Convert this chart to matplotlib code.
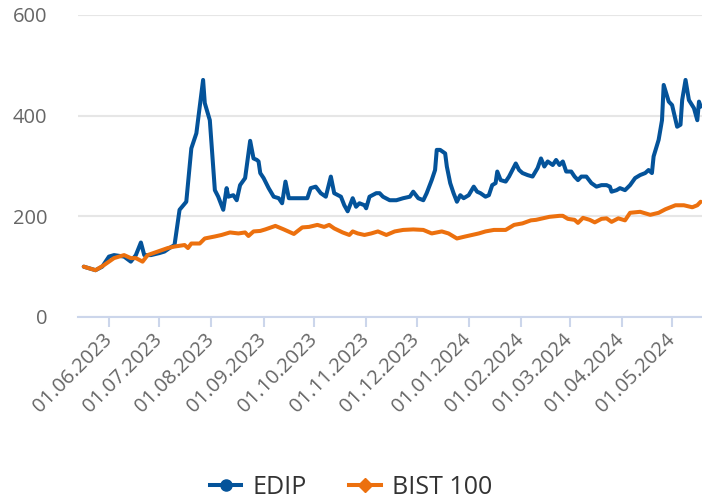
import matplotlib
matplotlib.use('Agg')
import matplotlib.pyplot as plt
from matplotlib.lines import Line2D
import pandas as pd

# ---------------- data ----------------
edip_dates = [
    '2023-05-17', '2023-05-24', '2023-05-28', '2023-06-01', '2023-06-04', '2023-06-10',
    '2023-06-14', '2023-06-17', '2023-06-20', '2023-06-22', '2023-06-26', '2023-07-01',
    '2023-07-04', '2023-07-07', '2023-07-10', '2023-07-13', '2023-07-17', '2023-07-20',
    '2023-07-23', '2023-07-25', '2023-07-27', '2023-07-28', '2023-07-31', '2023-08-03',
    '2023-08-05', '2023-08-08', '2023-08-10', '2023-08-11', '2023-08-14', '2023-08-16',
    '2023-08-18', '2023-08-21', '2023-08-24', '2023-08-26', '2023-08-28', '2023-08-29',
    '2023-08-30', '2023-09-01', '2023-09-04', '2023-09-07', '2023-09-10', '2023-09-12',
    '2023-09-14', '2023-09-16', '2023-09-20', '2023-09-24', '2023-09-27', '2023-09-29',
    '2023-10-02', '2023-10-05', '2023-10-08', '2023-10-11', '2023-10-13', '2023-10-17',
    '2023-10-19', '2023-10-21', '2023-10-24', '2023-10-26', '2023-10-28', '2023-10-31',
    '2023-11-01', '2023-11-03', '2023-11-07', '2023-11-09', '2023-11-11', '2023-11-15',
    '2023-11-19', '2023-11-23', '2023-11-27', '2023-11-29', '2023-12-02', '2023-12-05',
    '2023-12-07', '2023-12-10', '2023-12-12', '2023-12-13', '2023-12-15', '2023-12-18',
    '2023-12-19', '2023-12-21', '2023-12-23', '2023-12-25', '2023-12-27', '2023-12-29',
    '2024-01-01', '2024-01-04', '2024-01-06', '2024-01-08', '2024-01-11', '2024-01-13',
    '2024-01-15', '2024-01-17', '2024-01-18', '2024-01-20', '2024-01-23', '2024-01-25',
    '2024-01-27', '2024-01-29', '2024-01-31', '2024-02-02', '2024-02-05', '2024-02-08',
    '2024-02-11', '2024-02-13', '2024-02-15', '2024-02-17', '2024-02-20', '2024-02-22',
    '2024-02-24', '2024-02-26', '2024-02-28', '2024-03-02', '2024-03-04', '2024-03-06',
    '2024-03-08', '2024-03-11', '2024-03-14', '2024-03-17', '2024-03-20', '2024-03-23',
    '2024-03-25', '2024-03-26', '2024-03-29', '2024-03-31', '2024-04-03', '2024-04-06',
    '2024-04-09', '2024-04-12', '2024-04-15', '2024-04-17', '2024-04-19', '2024-04-20',
    '2024-04-23', '2024-04-25', '2024-04-26', '2024-04-29', '2024-05-01', '2024-05-04',
    '2024-05-06', '2024-05-07', '2024-05-09', '2024-05-11', '2024-05-14', '2024-05-16',
    '2024-05-17', '2024-05-18',
]
edip_values = [
    100, 93, 100, 120, 123, 120,
    110, 123, 148, 123, 123, 127,
    130, 137, 143, 213, 229, 335,
    365, 418, 471, 425, 391, 252,
    239, 213, 256, 239, 242, 232,
    262, 276, 350, 315, 312, 309,
    286, 276, 256, 239, 236, 226,
    269, 236, 236, 236, 236, 256,
    259, 246, 239, 279, 246, 239,
    222, 210, 236, 219, 226, 222,
    216, 239, 246, 246, 239, 232,
    232, 236, 239, 249, 236, 232,
    246, 272, 292, 332, 332, 325,
    299, 266, 246, 229, 242, 236,
    242, 259, 249, 246, 239, 242,
    262, 266, 289, 272, 269, 279,
    292, 305, 292, 286, 282, 279,
    296, 315, 299, 309, 302, 312,
    302, 309, 289, 289, 279, 272,
    279, 279, 266, 259, 262, 262,
    259, 249, 252, 256, 252, 262,
    276, 282, 286, 292, 286, 319,
    352, 391, 461, 428, 421, 378,
    382, 431, 471, 431, 415, 391,
    428, 418,
]

bist_dates = [
    '2023-05-17', '2023-05-24', '2023-05-29', '2023-06-04', '2023-06-10', '2023-06-14',
    '2023-06-17', '2023-06-21', '2023-06-24', '2023-06-30', '2023-07-06', '2023-07-10',
    '2023-07-16', '2023-07-18', '2023-07-20', '2023-07-25', '2023-07-28', '2023-08-03',
    '2023-08-07', '2023-08-12', '2023-08-17', '2023-08-21', '2023-08-23', '2023-08-26',
    '2023-08-30', '2023-09-02', '2023-09-08', '2023-09-13', '2023-09-19', '2023-09-24',
    '2023-09-28', '2023-10-03', '2023-10-07', '2023-10-10', '2023-10-13', '2023-10-18',
    '2023-10-22', '2023-10-24', '2023-10-27', '2023-10-31', '2023-11-04', '2023-11-08',
    '2023-11-13', '2023-11-18', '2023-11-23', '2023-11-29', '2023-12-05', '2023-12-10',
    '2023-12-16', '2023-12-20', '2023-12-25', '2023-12-30', '2024-01-03', '2024-01-07',
    '2024-01-11', '2024-01-16', '2024-01-23', '2024-01-28', '2024-02-02', '2024-02-07',
    '2024-02-10', '2024-02-14', '2024-02-18', '2024-02-24', '2024-02-26', '2024-02-29',
    '2024-03-04', '2024-03-06', '2024-03-09', '2024-03-13', '2024-03-16', '2024-03-20',
    '2024-03-23', '2024-03-26', '2024-03-30', '2024-04-03', '2024-04-06', '2024-04-12',
    '2024-04-18', '2024-04-23', '2024-04-27', '2024-05-03', '2024-05-08', '2024-05-13',
    '2024-05-16', '2024-05-18',
]
bist_values = [
    100, 93, 103, 117, 123, 117,
    117, 110, 123, 130, 137, 140,
    143, 137, 146, 146, 156, 160,
    163, 168, 166, 168, 161, 170,
    171, 174, 181, 174, 165, 178,
    179, 183, 179, 183, 176, 168,
    163, 170, 166, 163, 166, 170,
    163, 170, 173, 174, 173, 166,
    170, 166, 156, 160, 163, 166,
    170, 173, 173, 183, 186, 192,
    193, 196, 199, 201, 201, 195,
    193, 187, 197, 193, 188, 195,
    196, 189, 196, 192, 207, 209,
    203, 207, 214, 222, 222, 218,
    222, 229,
]

series_names = ['EDIP', 'BIST 100']
y_ticks = [0, 200, 400, 600]
x_tick_dates = ['2023-06-01', '2023-07-01', '2023-08-01', '2023-09-01', '2023-10-01',
                '2023-11-01', '2023-12-01', '2024-01-01', '2024-02-01', '2024-03-01',
                '2024-04-01', '2024-05-01']
x_tick_labels = ['01.06.2023', '01.07.2023', '01.08.2023', '01.09.2023', '01.10.2023',
                 '01.11.2023', '01.12.2023', '01.01.2024', '01.02.2024', '01.03.2024',
                 '01.04.2024', '01.05.2024']

# ---------------- style ----------------
BLUE = '#04539a'
ORANGE = '#ec700e'
GRID = '#e6e6e6'
AXIS = '#ccd6eb'
LABEL = '#666666'
plt.rcParams['font.family'] = ['Open Sans', 'DejaVu Sans']

W, H = 702, 499
fig = plt.figure(figsize=(W / 100, H / 100), dpi=100)
ax = fig.add_axes([78 / W, 1 - 317 / H, 1 - 78 / W, (317 - 15) / H])

ax.plot(pd.to_datetime(edip_dates), edip_values, color=BLUE, lw=2.9,
        solid_joinstyle='round', solid_capstyle='round', zorder=3)
ax.plot(pd.to_datetime(bist_dates), bist_values, color=ORANGE, lw=2.9,
        solid_joinstyle='round', solid_capstyle='round', zorder=4)

ax.set_ylim(0, 600)
ax.set_xlim(pd.Timestamp('2023-05-13 14:00'), pd.Timestamp('2024-05-18 19:00'))

for s in ['top', 'right', 'left']:
    ax.spines[s].set_visible(False)
ax.spines['bottom'].set_color(AXIS)
ax.spines['bottom'].set_linewidth(1.5)
ax.spines['bottom'].set_zorder(2)

ax.set_yticks(y_ticks)
ax.set_yticklabels([str(v) for v in y_ticks])
ax.yaxis.grid(True, color=GRID, lw=1.5)
ax.set_axisbelow(True)
ax.tick_params(axis='y', length=0, pad=22, labelsize=14.5, labelcolor=LABEL)

ax.set_xticks(pd.to_datetime(x_tick_dates))
ax.set_xticklabels(x_tick_labels, rotation=45, ha='right', va='center',
                   rotation_mode='anchor')
ax.tick_params(axis='x', length=7, width=1.5, color=AXIS, pad=7,
               labelsize=14.5, labelcolor=LABEL)

handles = [
    Line2D([], [], color=BLUE, lw=2.9, marker='o', markersize=8),
    Line2D([], [], color=ORANGE, lw=2.9, marker='D', markersize=7),
]
fig.legend(handles, series_names, loc='center', bbox_to_anchor=(0.5, 1 - 487 / H),
           ncol=2, frameon=False, fontsize=18, handlelength=1.25,
           handletextpad=0.45, columnspacing=1.7, labelcolor='#333333',
           borderaxespad=0, borderpad=0)

fig.savefig('out.png', dpi=100)
